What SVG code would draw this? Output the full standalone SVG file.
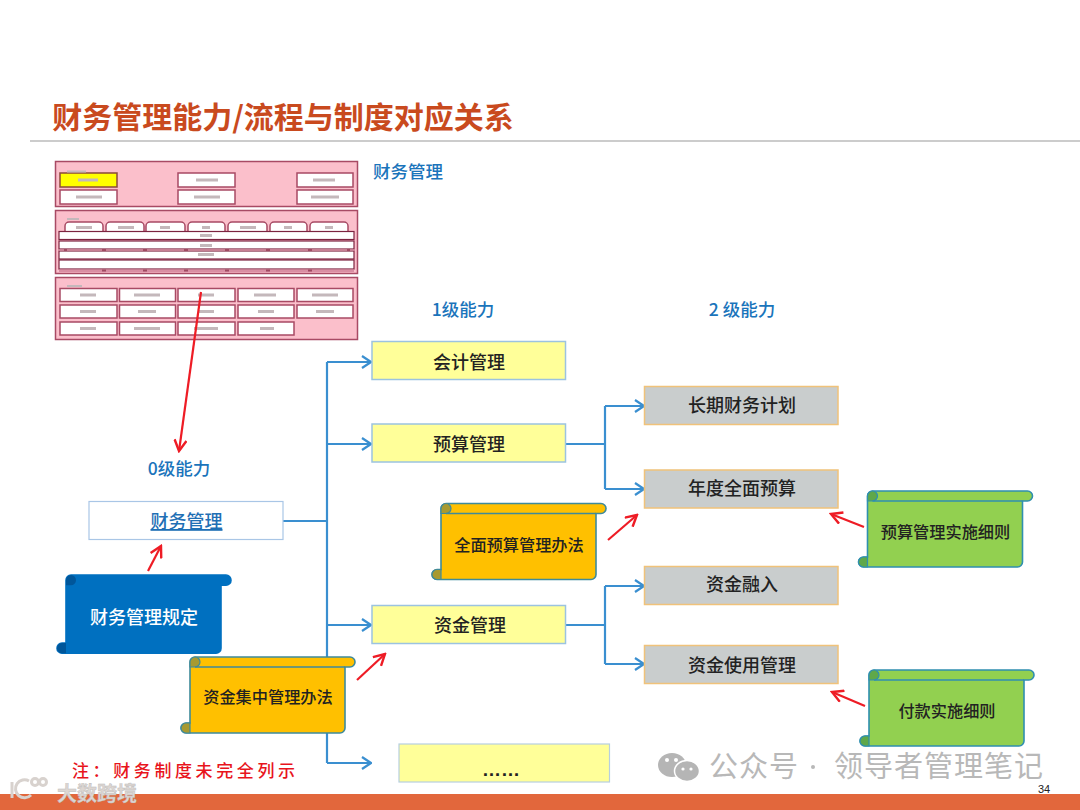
<svg xmlns="http://www.w3.org/2000/svg" width="1080" height="810" viewBox="0 0 1080 810">
<style>
text{font-family:"Noto Sans CJK SC","Liberation Sans",sans-serif;text-anchor:middle}
.lb{font-size:18px;font-weight:500;fill:#222}
.st{font-size:16.200px;font-weight:500;fill:#222}
.hd{font-size:17.500px;font-weight:500;fill:#1a74bb}
.y{fill:#ffff99;stroke:#9cc3e0;stroke-width:1.5}
.g{fill:#c9cdcd;stroke:#f0c27a;stroke-width:1.5}
.c{fill:none;stroke:#3a8fd0;stroke-width:2.200}
.r{fill:none;stroke:#ee1c25;stroke-width:2.200}
.sO{fill:#ffc000;stroke:#3f8a9a;stroke-width:1.6}
.sG{fill:#92d050;stroke:#2f8fb0;stroke-width:1.6}
.sB{fill:#0070c0;stroke:#0070c0;stroke-width:1.6}
.pk{fill:#fbbfcb;stroke:#a84a64;stroke-width:1.5}
.mn{fill:#fff;stroke:#a84a64;stroke-width:1.5}
.mt{fill:#fff;stroke:#7c2440;stroke-width:1.2}
.sm{fill:#c4b8bb}
.dk{fill:#a04a62}
.wm{font-size:29px;fill:#b8b8b8;text-anchor:start;letter-spacing:1px}
</style>
<defs>
<path id="sc" d="M9 5a5 5 0 0 1 5-5H169a5 5 0 0 1 0 10H164V71a5 5 0 0 1-5 5H5a5 5 0 0 1 0-10H9Z"/>
<path id="cO" d="M9 5a5 5 0 1 1 5 5H9ZM9 66H5a5 5 0 0 0 0 10H9Z" fill="#a89a30" stroke="#3f8a9a" stroke-width="1.2"/>
<path id="cG" d="M9 5a5 5 0 1 1 5 5H9ZM9 66H5a5 5 0 0 0 0 10H9Z" fill="#5fa84a" stroke="#2f8fb0" stroke-width="1.2"/>
<path id="cB" d="M9 5a5 5 0 1 1 5 5H9ZM9 66H5a5 5 0 0 0 0 10H9Z" fill="#00569a"/>
<marker id="ab" markerWidth="12" markerHeight="14" refX="11" refY="7" orient="auto" markerUnits="userSpaceOnUse"><path d="M2 1L11 7L2 13" fill="none" stroke="#3a8fd0" stroke-width="2.200"/></marker>
<marker id="ar" markerWidth="14" markerHeight="14" refX="12" refY="7" orient="auto" markerUnits="userSpaceOnUse"><path d="M1 1L12 7L1 13" fill="none" stroke="#ee1c25" stroke-width="2.400"/></marker>
</defs>
<rect width="1080" height="810" fill="#fff"/>
<text x="283" y="128" style="font-size:30px;font-weight:700;fill:#c94a1e">财务管理能力/流程与制度对应关系</text>
<rect x="30" y="140.500" width="1050" height="1" fill="#999"/>
<rect x="0" y="794" width="1080" height="16" fill="#e2673c"/>

<g id="mini-chart">
<rect class="pk" x="55.500" y="161.500" width="302" height="45"/>
<rect x="60" y="173" width="57" height="14" fill="#ffff00" stroke="#8a4a3a" stroke-width="1.5"/>
<rect class="mn" x="60" y="190" width="57" height="14"/>
<rect class="mn" x="178" y="173" width="57" height="14"/><rect class="mn" x="178" y="190" width="57" height="14"/>
<rect class="mn" x="297" y="173" width="56" height="14"/><rect class="mn" x="297" y="190" width="56" height="14"/>
<rect class="pk" x="55.500" y="210.500" width="302" height="63"/>
<g class="mn"><rect x="65" y="222" width="38" height="14" rx="4"/><rect x="106" y="222" width="38" height="14" rx="4"/><rect x="146" y="222" width="39" height="14" rx="4"/><rect x="188" y="222" width="37" height="14" rx="4"/><rect x="228" y="222" width="39" height="14" rx="4"/><rect x="270" y="222" width="37" height="14" rx="4"/><rect x="310" y="222" width="38" height="14" rx="4"/></g>
<g class="mt"><rect x="59" y="231.500" width="295" height="8"/><rect x="59" y="241" width="295" height="8"/><rect x="59" y="251" width="295" height="8"/><rect x="59" y="260" width="295" height="9"/></g>
<g class="dk"><rect x="59" y="249" width="295" height="2" fill="#c77f93"/><rect x="59" y="269.500" width="295" height="2.500" fill="#d98ea3"/><rect x="64" y="249" width="3" height="2"/><rect x="102" y="249" width="4" height="2"/><rect x="143" y="249" width="4" height="2"/><rect x="184" y="249" width="4" height="2"/><rect x="225" y="249" width="4" height="2"/><rect x="266" y="249" width="4" height="2"/><rect x="308" y="249" width="4" height="2"/><rect x="347" y="249" width="3" height="2"/><rect x="102" y="269.500" width="4" height="2"/><rect x="143" y="269.500" width="4" height="2"/><rect x="184" y="269.500" width="4" height="2"/><rect x="225" y="269.500" width="4" height="2"/><rect x="266" y="269.500" width="4" height="2"/><rect x="308" y="269.500" width="4" height="2"/></g>
<rect class="pk" x="55.500" y="277.500" width="302" height="62"/>
<g class="mn">
<rect x="60" y="288.500" width="57" height="13"/><rect x="119.500" y="288.500" width="56" height="13"/><rect x="178" y="288.500" width="57" height="13"/><rect x="238" y="288.500" width="56" height="13"/><rect x="297" y="288.500" width="56" height="13"/>
<rect x="60" y="305" width="57" height="13"/><rect x="119.500" y="305" width="56" height="13"/><rect x="178" y="305" width="57" height="13"/><rect x="238" y="305" width="56" height="13"/><rect x="297" y="305" width="56" height="13"/>
<rect x="60" y="322" width="57" height="13"/><rect x="119.500" y="322" width="56" height="13"/><rect x="178" y="322" width="57" height="13"/><rect x="238" y="322" width="56" height="13"/>
</g>
<g class="sm">
<rect x="67" y="170.500" width="19" height="2"/><rect x="67" y="218" width="12" height="2"/><rect x="67" y="285" width="15" height="2"/>
<rect x="78" y="178.500" width="20" height="3"/><rect x="196" y="178.500" width="22" height="3"/><rect x="313" y="178.500" width="22" height="3"/>
<rect x="76" y="195.500" width="26" height="3"/><rect x="194" y="195.500" width="26" height="3"/><rect x="311" y="195.500" width="28" height="3"/>
<rect x="76" y="226" width="16" height="3"/><rect x="118" y="226" width="16" height="3"/><rect x="160" y="226" width="10" height="3"/><rect x="202" y="226" width="8" height="3"/><rect x="240" y="226" width="16" height="3"/><rect x="284" y="226" width="8" height="3"/><rect x="325" y="226" width="8" height="3"/>
<rect x="200" y="234" width="12" height="3"/><rect x="200" y="244" width="12" height="3"/><rect x="198" y="253" width="16" height="3"/>
<rect x="80" y="293.500" width="16" height="3"/><rect x="134" y="293.500" width="26" height="3"/><rect x="198" y="293.500" width="16" height="3"/><rect x="254" y="293.500" width="22" height="3"/><rect x="312" y="293.500" width="26" height="3"/>
<rect x="80" y="310" width="16" height="3"/><rect x="138" y="310" width="18" height="3"/><rect x="198" y="310" width="16" height="3"/><rect x="258" y="310" width="16" height="3"/><rect x="316" y="310" width="18" height="3"/>
<rect x="80" y="327" width="16" height="3"/><rect x="134" y="327" width="26" height="3"/><rect x="194" y="327" width="24" height="3"/><rect x="260" y="327" width="14" height="3"/>
</g>
</g>
<text x="408" y="178" class="hd">财务管理</text>
<text x="463" y="316" class="hd">1级能力</text>
<text x="742" y="316" class="hd">2 级能力</text>
<text x="179" y="475" class="hd">0级能力</text>

<g id="connectors">
<path class="c" d="M283 521H327"/>
<path class="c" d="M327 362V763"/>
<path class="c" d="M327 362H371" marker-end="url(#ab)"/>
<path class="c" d="M327 444H371" marker-end="url(#ab)"/>
<path class="c" d="M327 625H371" marker-end="url(#ab)"/>
<path class="c" d="M327 763H371" marker-end="url(#ab)"/>
<path class="c" d="M566 444H605"/>
<path class="c" d="M605 406V489"/>
<path class="c" d="M605 406H644" marker-end="url(#ab)"/>
<path class="c" d="M605 489H644" marker-end="url(#ab)"/>
<path class="c" d="M566 625H605"/>
<path class="c" d="M605 586V664"/>
<path class="c" d="M605 586H644" marker-end="url(#ab)"/>
<path class="c" d="M605 664H644" marker-end="url(#ab)"/>
<path class="r" d="M201 292L179 451" marker-end="url(#ar)"/>
<path class="r" d="M148 571L161 546" marker-end="url(#ar)"/>
<path class="r" d="M357 680L385 654" marker-end="url(#ar)"/>
<path class="r" d="M608 540L637 515" marker-end="url(#ar)"/>
<path class="r" d="M864 527L831 514" marker-end="url(#ar)"/>
<path class="r" d="M865 706L832 692" marker-end="url(#ar)"/>
</g>

<g id="n-caiwu"><rect x="89" y="501.500" width="194" height="38" fill="#fff" stroke="#a9c6e6" stroke-width="1.2"/><text x="186.500" y="528" style="font-size:18px;font-weight:500;fill:#1f6fb5;text-decoration:underline">财务管理</text></g>
<g id="n-kuaiji"><rect class="y" x="372" y="341.500" width="193.500" height="38"/><text x="469" y="369" class="lb">会计管理</text></g>
<g id="n-yusuan"><rect class="y" x="372" y="424" width="193.500" height="38"/><text x="469" y="451" class="lb">预算管理</text></g>
<g id="n-zijin"><rect class="y" x="372" y="605.500" width="193.500" height="38"/><text x="470" y="632" class="lb">资金管理</text></g>
<g id="n-more"><rect x="399" y="744" width="210.500" height="38" fill="#ffff99" stroke="#b7cfdf" stroke-width="1.2"/><text x="501" y="776" style="font-size:19px;fill:#222;font-family:'Liberation Sans',sans-serif;font-weight:700">……</text></g>
<g id="n-changqi"><rect class="g" x="644.500" y="386.500" width="193.500" height="38"/><text x="742" y="412" class="lb">长期财务计划</text></g>
<g id="n-niandu"><rect class="g" x="644.500" y="470" width="193.500" height="38"/><text x="742" y="495" class="lb">年度全面预算</text></g>
<g id="n-rongzi"><rect class="g" x="644.500" y="566.500" width="193.500" height="38"/><text x="742" y="591" class="lb">资金融入</text></g>
<g id="n-shiyong"><rect class="g" x="644.500" y="645.500" width="193.500" height="38"/><text x="742" y="672" class="lb">资金使用管理</text></g>

<g id="s-guiding" transform="translate(57 575)"><use href="#sc" class="sB" transform="scale(1 1.03)"/><use href="#cB" transform="scale(1 1.03)"/><text x="87" y="49" style="font-size:18px;font-weight:500;fill:#fff">财务管理规定</text></g>
<g id="s-jizhong" transform="translate(181 657)"><use href="#sc" class="sO"/><use href="#cO"/><path d="M14 10H164" stroke="#3f8a9a" stroke-width="1.400"/><text x="87" y="46" class="st">资金集中管理办法</text></g>
<g id="s-quanmian" transform="translate(432 503.500)"><use href="#sc" class="sO"/><use href="#cO"/><path d="M14 10H164" stroke="#3f8a9a" stroke-width="1.400"/><text x="87" y="47" class="st">全面预算管理办法</text></g>
<g id="s-xize1" transform="translate(858.500 491)"><use href="#sc" class="sG"/><use href="#cG"/><path d="M14 10H164" stroke="#2f8fb0" stroke-width="1.400"/><text x="87" y="47" class="st">预算管理实施细则</text></g>
<g id="s-xize2" transform="translate(860 670)"><use href="#sc" class="sG"/><use href="#cG"/><path d="M14 10H164" stroke="#2f8fb0" stroke-width="1.400"/><text x="87" y="47" class="st">付款实施细则</text></g>

<text x="72" y="777" style="font-size:17px;font-weight:500;fill:#e8141c;letter-spacing:3.600px;text-anchor:start">注：财务制度未完全列示</text>
<text x="1044" y="793" style="font-size:11px;fill:#222;font-family:'Liberation Sans',sans-serif">34</text>

<g id="watermark">
<ellipse cx="672" cy="765" rx="14" ry="12" fill="#b5b5b5"/><ellipse cx="687" cy="771" rx="12.500" ry="10.500" fill="#b5b5b5" stroke="#fff" stroke-width="1.500"/>
<circle cx="667" cy="760" r="2" fill="#fff"/><circle cx="676" cy="760" r="2" fill="#fff"/><circle cx="683" cy="769" r="1.600" fill="#fff"/><circle cx="691" cy="769" r="1.600" fill="#fff"/>
<text x="709" y="777" class="wm">公众号</text>
<circle cx="813" cy="767" r="2" fill="#b8b8b8"/>
<text x="834" y="777" class="wm">领导者管理笔记</text>
<g fill="none" stroke="#d8d2ce" stroke-width="3"><path d="M12 782V798"/><path d="M29 781a9 9 0 1 0 2 14"/><circle cx="35" cy="782" r="3.500"/><circle cx="43" cy="782" r="3.500"/></g>
<text x="97" y="801" style="font-size:20px;font-weight:700;fill:#ddd6d2;stroke:#bbb;stroke-width:.4">大数跨境</text>
</g>
</svg>
